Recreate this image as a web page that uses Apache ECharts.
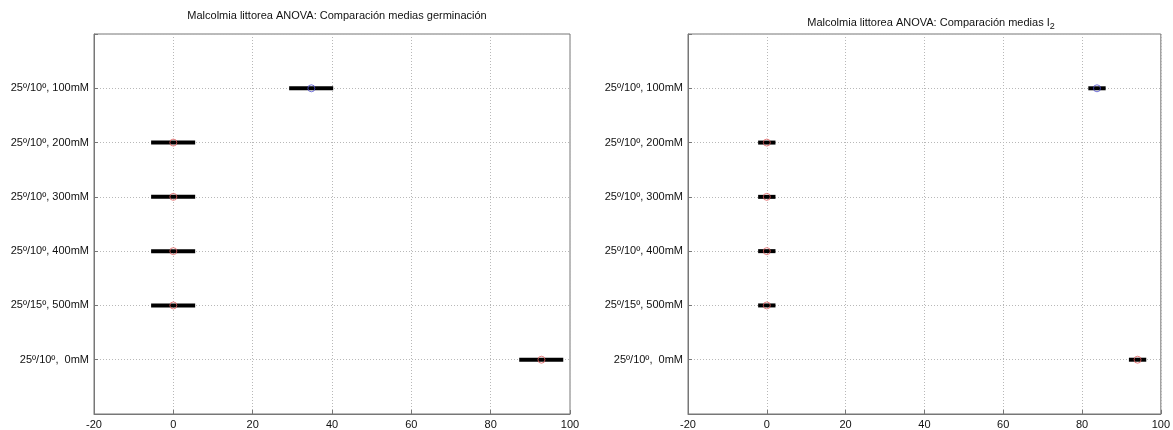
<!DOCTYPE html>
<html>
<head>
<meta charset="utf-8">
<script src="https://cdn.jsdelivr.net/npm/echarts@6/dist/echarts.min.js"></script>
<style>
html,body{margin:0;padding:0;background:#fff;}
#chart{width:1173px;height:430px;}
</style>
</head>
<body>
<div id="chart"></div>
<script>
// Group labels (top to bottom)
const groupLabels = ['25º/10º, 100mM', '25º/10º, 200mM', '25º/10º, 300mM', '25º/10º, 400mM', '25º/15º, 500mM', '25º/10º,  0mM'];
const groupPos = [6, 5, 4, 3, 2, 1];
const xTicks = [-20, 0, 20, 40, 60, 80, 100];

// Germinación
const germMean = [34.8, 0, 0, 0, 0, 92.8];
const germLow  = [29.2, -5.6, -5.6, -5.6, -5.6, 87.2];
const germHigh = [40.3, 5.5, 5.5, 5.5, 5.5, 98.3];

// I2
const i2Mean = [83.8, 0, 0, 0, 0, 94.1];
const i2Low  = [81.6, -2.2, -2.2, -2.2, -2.2, 91.9];
const i2High = [86.0, 2.2, 2.2, 2.2, 2.2, 96.3];

// marker colours: first group highlighted (blue), others red
const markerColors = ['#5050d0', '#e06060', '#e06060', '#e06060', '#e06060', '#e06060'];

const FONT = 'Liberation Sans, Arial, sans-serif';
const labelMap = {};
groupPos.forEach((p, i) => { labelMap[p] = groupLabels[i]; });

function xAxis(idx) {
  return {
    type: 'value', gridIndex: idx, min: xTicks[0], max: xTicks[xTicks.length - 1], interval: 20,
    axisLine: { show: true, onZero: false, lineStyle: { color: '#777', width: 1 } },
    axisTick: { show: true, inside: true, length: 4, lineStyle: { color: '#777' } },
    axisLabel: { color: '#111', fontSize: 11, fontFamily: FONT, margin: 5 },
    splitLine: { show: true, lineStyle: { color: '#b8b8b8', type: [1, 2], width: 1 } }
  };
}
function yAxis(idx) {
  return {
    type: 'value', gridIndex: idx, min: 0, max: 7, interval: 1,
    axisLine: { show: true, onZero: false, lineStyle: { color: '#777', width: 1 } },
    axisTick: { show: true, inside: true, length: 4, lineStyle: { color: '#777' } },
    axisLabel: { color: '#111', fontSize: 11, fontFamily: FONT, margin: 5,
      formatter: v => labelMap[v] || '' , showMinLabel: true, showMaxLabel: true},
    splitLine: { show: true, lineStyle: { color: '#b8b8b8', type: [1, 2], width: 1 } }
  };
}

function intervalSeries(idx, low, high) {
  return {
    type: 'custom', xAxisIndex: idx, yAxisIndex: idx, z: 3,
    data: groupPos.map((p, i) => [low[i], high[i], p]),
    renderItem: function (params, api) {
      const a = api.coord([api.value(0), api.value(2)]);
      const b = api.coord([api.value(1), api.value(2)]);
      return { type: 'line', shape: { x1: a[0], y1: a[1], x2: b[0], y2: b[1] },
        style: { stroke: '#000', lineWidth: 4 } };
    }
  };
}
function meanSeries(idx, mean) {
  return {
    type: 'scatter', xAxisIndex: idx, yAxisIndex: idx, z: 4,
    symbol: 'circle', symbolSize: 7,
    data: groupPos.map((p, i) => ({ value: [mean[i], p],
      itemStyle: { color: 'rgba(0,0,0,0)', borderColor: markerColors[i], borderWidth: 1 } }))
  };
}

const chart = echarts.init(document.getElementById('chart'), null, { renderer: 'canvas' });
chart.setOption({
  animation: false,
  backgroundColor: '#fff',
  title: [
    { text: 'Malcolmia littorea ANOVA: Comparación medias germinación', left: 332, top: 5, textAlign: 'center',
      textStyle: { fontSize: 11, fontWeight: 'normal', color: '#111', fontFamily: FONT } },
    { text: 'Malcolmia littorea ANOVA: Comparación medias I{sub|2}', left: 926, top: 10, textAlign: 'center',
      textStyle: { fontSize: 11, fontWeight: 'normal', color: '#111', fontFamily: FONT,
        rich: { sub: { fontSize: 9, fontFamily: FONT, color: '#111', verticalAlign: 'bottom', padding: [7, 0, 0, 0] } } } }
  ],
  grid: [
    { left: 94, top: 34, width: 476, height: 381, show: true, borderColor: '#777', borderWidth: 1, backgroundColor: 'transparent' },
    { left: 688, top: 34, width: 476, height: 381, show: true, borderColor: '#777', borderWidth: 1, backgroundColor: 'transparent' }
  ],
  xAxis: [xAxis(0), xAxis(1)],
  yAxis: [yAxis(0), yAxis(1)],
  series: [
    intervalSeries(0, germLow, germHigh),
    meanSeries(0, germMean),
    intervalSeries(1, i2Low, i2High),
    meanSeries(1, i2Mean)
  ]
});
</script>
</body>
</html>
